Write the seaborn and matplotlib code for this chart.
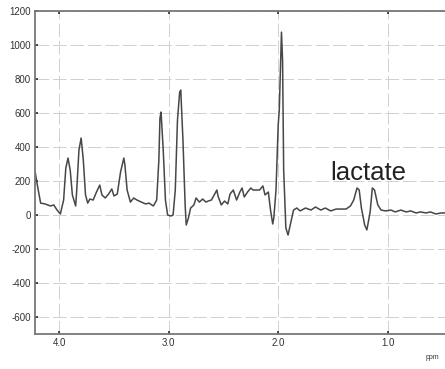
import matplotlib
matplotlib.use("Agg")
import matplotlib.pyplot as plt
import seaborn as sns
import pandas as pd

# Chemical shift (ppm) and signal intensity
ppm = [4.22, 4.20, 4.17, 4.13, 4.08, 4.05, 4.02, 3.99, 3.96, 3.94, 3.92, 3.90, 3.88, 3.85,
       3.84, 3.82, 3.80, 3.78, 3.76, 3.74, 3.72, 3.69, 3.66, 3.63, 3.61, 3.58, 3.55, 3.52,
       3.50, 3.47, 3.44, 3.41, 3.40, 3.38, 3.35, 3.32, 3.29, 3.25, 3.21, 3.18, 3.14, 3.11,
       3.09, 3.08, 3.07, 3.05, 3.03, 3.01, 2.98, 2.96, 2.94, 2.92, 2.90, 2.89, 2.87, 2.85,
       2.84, 2.82, 2.80, 2.77, 2.75, 2.72, 2.69, 2.66, 2.64, 2.61, 2.58, 2.56, 2.55, 2.52,
       2.49, 2.46, 2.44, 2.41, 2.38, 2.35, 2.33, 2.31, 2.28, 2.25, 2.23, 2.20, 2.17, 2.14,
       2.12, 2.09, 2.07, 2.05, 2.04, 2.02, 2.00, 1.99, 1.97, 1.96, 1.95, 1.93, 1.91, 1.89,
       1.86, 1.83, 1.80, 1.75, 1.70, 1.66, 1.61, 1.57, 1.52, 1.47, 1.43, 1.38, 1.34, 1.31,
       1.28, 1.26, 1.24, 1.21, 1.19, 1.16, 1.14, 1.12, 1.09, 1.06, 1.02, 0.97, 0.93, 0.88,
       0.83, 0.79, 0.74, 0.70, 0.65, 0.61, 0.56, 0.51, 0.47]
intensity = [253, 176, 70, 65, 53, 59, 29, 6, 88, 276, 335, 265, 118, 53,
             147, 382, 453, 323, 118, 70, 94, 88, 135, 176, 118, 100, 123, 153,
             112, 123, 253, 335, 294, 147, 76, 100, 88, 76, 65, 70, 53, 88,
             323, 570, 606, 382, 88, 0, -6, 0, 147, 559, 723, 735, 441, 59,
             -59, -18, 41, 59, 100, 76, 94, 76, 82, 88, 123, 147, 112, 59,
             82, 65, 123, 147, 88, 135, 159, 106, 135, 159, 147, 147, 147, 171,
             118, 135, 29, -53, -18, 147, 529, 617, 1076, 911, 265, -76, -118, -59,
             29, 41, 24, 41, 29, 47, 29, 41, 24, 35, 35, 35, 53, 88,
             159, 147, 41, -59, -88, 18, 159, 147, 59, 29, 24, 29, 18, 29,
             18, 24, 12, 18, 12, 18, 6, 12, 12]

x_ticks = [4.0, 3.0, 2.0, 1.0]
x_tick_labels = ["4.0", "3.0", "2.0", "1.0"]
y_ticks = [-600, -400, -200, 0, 200, 400, 600, 800, 1000, 1200]
annotation = "lactate"

df = pd.DataFrame({"ppm": ppm, "intensity": intensity})

sns.set_theme(style="white")
plt.rcParams["font.family"] = ["Liberation Sans", "DejaVu Sans"]

fig = plt.figure(figsize=(4.45, 3.69), dpi=100)
ax = fig.add_axes([0.079, 0.095, 0.925, 0.875])

sns.lineplot(data=df, x="ppm", y="intensity", ax=ax, sort=False, estimator=None,
             color="#474747", linewidth=1.1)

ax.set_xlim(4.22, 0.46)
ax.set_ylim(-700, 1200)
ax.set_xticks(x_ticks)
ax.set_xticklabels(x_tick_labels)
ax.set_yticks(y_ticks)
ax.set_yticklabels([str(v) for v in y_ticks])
ax.tick_params(axis="both", labelsize=7, colors="#333333", length=2, direction="in",
               top=True, bottom=True, left=True, pad=3)
ax.grid(True, color="#d0d0d0", linewidth=0.7, linestyle=(0, (14, 4)))
ax.set_xlabel("")
ax.set_ylabel("")

for side in ["left", "bottom", "top"]:
    ax.spines[side].set_color("#777777")
    ax.spines[side].set_linewidth(1.3)
ax.spines["right"].set_visible(False)

ax.text(1.52, 250, annotation, fontsize=18.5, color="#222222", va="center", ha="left")
fig.text(0.972, 0.03, "ppm", fontsize=5, color="#333333", ha="center", va="center")

fig.savefig("out.png", dpi=100)
